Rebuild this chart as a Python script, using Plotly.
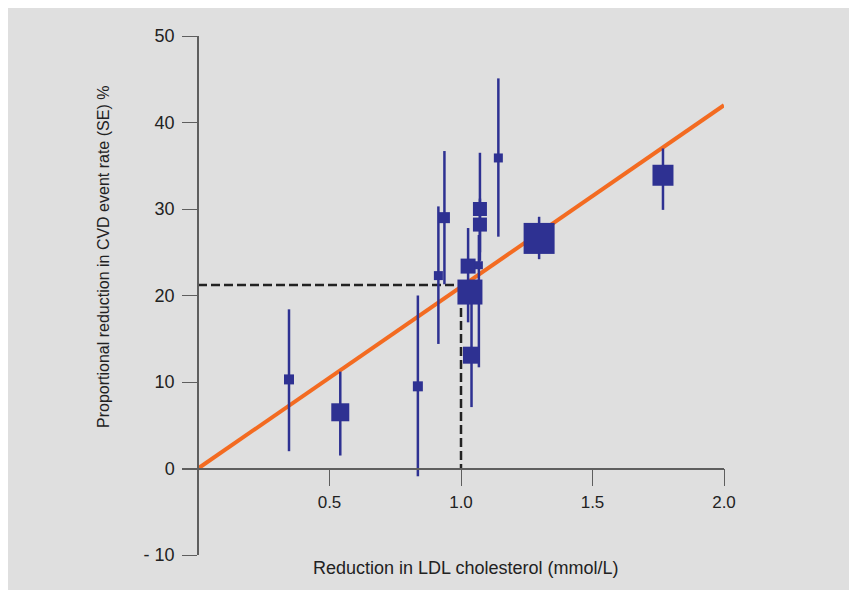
import plotly.graph_objects as go

# ---- data ----
ldl_reduction = [0.346, 0.541, 0.836, 0.914, 0.937, 1.027, 1.068, 1.072, 1.072, 1.034, 1.040, 1.142, 1.297, 1.768]
cvd_reduction = [10.3, 6.5, 9.5, 22.3, 29.0, 23.4, 23.5, 30.0, 28.2, 20.4, 13.1, 35.9, 26.6, 33.9]
se_upper = [8.1, 4.7, 10.5, 8.0, 7.7, 4.4, 3.5, 6.5, 3.0, 1.0, 6.4, 9.2, 2.5, 3.1]
se_lower = [8.3, 5.0, 10.4, 7.9, 7.7, 6.5, 11.8, 5.0, 4.2, 1.0, 6.0, 9.1, 2.4, 4.0]
trial_weight = [10, 18, 10, 9, 11, 15, 8, 14, 14, 25, 17, 9, 31, 21]

fit_x = [0.0, 2.0]
fit_y = [0.0, 42.0]

ref_ldl = 1.0
ref_cvd = 21.2

x_tickvals = [0.5, 1.0, 1.5, 2.0]
x_ticktext = ["0.5", "1.0", "1.5", "2.0"]
y_tickvals = [-10, 0, 10, 20, 30, 40, 50]
y_ticktext = ["- 10", "0", "10", "20", "30", "40", "50"]

x_title = "Reduction in LDL cholesterol (mmol/L)"
y_title = "Proportional reduction in CVD event rate (SE) %"

# ---- style ----
NAVY = "#2e3192"
ORANGE = "#f36b21"
PANEL = "#dfdfdf"
AXIS = "#5e5e5e"
TEXT = "#222222"
FONT = "Liberation Sans, Arial, sans-serif"

# the page adds an 8px body margin, so the figure is 8px smaller than the window
OFF = 8
W, H = 857 - OFF, 590 - OFF
ML = 182 - OFF
MT = 36 - OFF
PR = 724 - OFF      # right edge of plot area (figure px)
PB = 555 - OFF      # bottom edge of plot area (figure px)
MR, MB = W - PR, H - PB
PW, PH = PR - ML, PB - MT

x_min = -16 / 263.0
x_range = [x_min, 2.0]
y_range = [-10, 50]

fig = go.Figure()

# dashed reference lines
fig.add_trace(go.Scatter(
    x=[0, ref_ldl, ref_ldl], y=[ref_cvd, ref_cvd, 0],
    mode="lines", line=dict(color="#222222", width=2.5, dash="9px,4px"),
    hoverinfo="skip", showlegend=False))

# regression line
fig.add_trace(go.Scatter(
    x=fit_x, y=fit_y, mode="lines",
    line=dict(color=ORANGE, width=4), showlegend=False))

# trials
fig.add_trace(go.Scatter(
    x=ldl_reduction, y=cvd_reduction, mode="markers",
    marker=dict(symbol="square", size=trial_weight, color=NAVY, opacity=1, line=dict(width=0)),
    error_y=dict(type="data", symmetric=False, array=se_upper, arrayminus=se_lower,
                 color=NAVY, thickness=2.5, width=0),
    showlegend=False))


def px_to_paper_x(px):
    return (px - OFF - ML) / PW


def px_to_paper_y(py):
    return (PB - (py - OFF)) / PH


fig.add_annotation(text=x_title, xref="paper", yref="paper",
                   x=px_to_paper_x(465), y=px_to_paper_y(568),
                   xanchor="center", yanchor="middle", showarrow=False,
                   font=dict(family=FONT, size=18, color=TEXT))
fig.add_annotation(text=y_title, xref="paper", yref="paper",
                   x=px_to_paper_x(103), y=px_to_paper_y(257),
                   xanchor="center", yanchor="middle", showarrow=False, textangle=-90,
                   font=dict(family=FONT, size=16, color=TEXT))

fig.update_layout(
    width=W, height=H,
    margin=dict(l=ML, r=MR, t=MT, b=MB, pad=0),
    paper_bgcolor=PANEL, plot_bgcolor="rgba(0,0,0,0)",
    xaxis=dict(range=x_range, anchor="free", position=10 / 60,
               showline=True, linecolor=AXIS, linewidth=1.5,
               ticks="outside", ticklen=17, tickwidth=1.2, tickcolor=AXIS,
               tickvals=x_tickvals, ticktext=x_ticktext, ticklabelstandoff=1,
               tickfont=dict(family=FONT, size=17, color=TEXT),
               showgrid=False, zeroline=False),
    yaxis=dict(range=y_range, anchor="free", position=-x_min / (2.0 - x_min),
               showline=True, linecolor=AXIS, linewidth=1.5,
               ticks="outside", ticklen=15, tickwidth=1.2, tickcolor=AXIS,
               tickvals=y_tickvals, ticktext=y_ticktext, ticklabelstandoff=4,
               tickfont=dict(family=FONT, size=18, color=TEXT),
               showgrid=False, zeroline=False),
)

fig.write_html("out.html")
